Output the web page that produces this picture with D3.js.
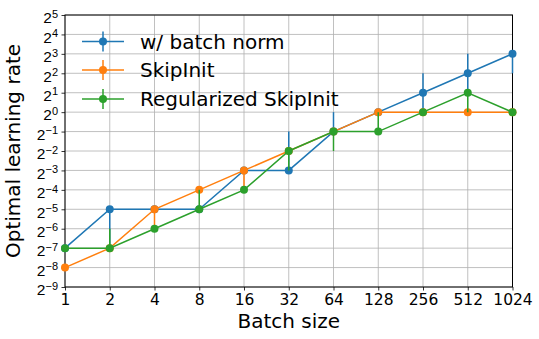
<!DOCTYPE html>
<html><head><meta charset="utf-8">
<script src="https://cdn.jsdelivr.net/npm/d3@7"></script>
<style>body{margin:0;background:#fff}svg{display:block;font-family:"DejaVu Sans",sans-serif}</style>
</head><body><div id="chart"></div>
<script>
const batchSizes = [1, 2, 4, 8, 16, 32, 64, 128, 256, 512, 1024];
const yTickExps = [-9,-8,-7,-6,-5,-4,-3,-2,-1,0,1,2,3,4,5];
// log2 of optimal learning rate
const bnExp   = [-7, -5, -5, -5, -3, -3, -1, 0, 1, 2, 3];
const bnLo    = [-7, -7, -5, -5, -3, -3, -1, 0, 0, 1, 2];
const bnHi    = [-7, -5, -5, -5, -3, -1, 0, 0, 2, 3, 3];
const skExp   = [-8, -7, -5, -4, -3, -2, -1, 0, 0, 0, 0];
const skLo    = [-8, -7, -6, -4, -4, -2, -1, 0, 0, 0, 0];
const skHi    = [-8, -7, -5, -4, -3, -2, -1, 0, 0, 0, 0];
const rsExp   = [-7, -7, -6, -5, -4, -2, -1, -1, 0, 1, 0];
const rsLo    = [-7, -7, -6, -5, -4, -3, -2, -1, 0, 0, 0];
const rsHi    = [-7, -6, -6, -4, -4, -2, -1, 0, 0, 1, 0];
const seriesNames = ["w/ batch norm", "SkipInit", "Regularized SkipInit"];
const colors = ["#1f77b4", "#ff7f0e", "#2ca02c"];

const W = 539, H = 339;
const m = {l: 65, r: 539-512.5, t: 15, b: 339-287};
const svg = d3.select("#chart").append("svg").attr("width", W).attr("height", H);
const x = d3.scaleLog().base(2).domain([1, 1024]).range([m.l, W - m.r]);
const y = d3.scaleLinear().domain([-9, 5]).range([H - m.b, m.t]);

// grid
const g = svg.append("g");
g.selectAll(".gx").data(batchSizes).enter().append("line")
  .attr("x1", d => x(d)).attr("x2", d => x(d)).attr("y1", m.t).attr("y2", H - m.b)
  .attr("stroke", "#b0b0b0").attr("stroke-width", 0.8);
g.selectAll(".gy").data(yTickExps).enter().append("line")
  .attr("y1", d => y(d)).attr("y2", d => y(d)).attr("x1", m.l).attr("x2", W - m.r)
  .attr("stroke", "#b0b0b0").attr("stroke-width", 0.8);

// axes
const xAxis = d3.axisBottom(x).tickValues(batchSizes).tickFormat(d => String(d)).tickSize(3.5).tickPadding(3.5);
const xg = svg.append("g").attr("transform", `translate(0,${H - m.b})`).call(xAxis);
xg.select(".domain").remove();
xg.selectAll("line").attr("stroke", "#000").attr("stroke-width", 0.8);
xg.selectAll("text").attr("font-size", "15.5px").attr("font-family", "DejaVu Sans").attr("fill", "#000");

const yAxis = d3.axisLeft(y).tickValues(yTickExps).tickFormat("").tickSize(3.5);
const yg = svg.append("g").attr("transform", `translate(${m.l},0)`).call(yAxis);
yg.select(".domain").remove();
yg.selectAll("line").attr("stroke", "#000").attr("stroke-width", 0.8);
yg.selectAll(".tick").each(function(d) {
  const t = d3.select(this).append("text").attr("x", -7).attr("dy", "0.5em")
    .attr("text-anchor", "end").attr("fill", "#000").attr("font-size", "15.5px");
  t.append("tspan").text("2");
  t.append("tspan").attr("dy", "-0.5em").attr("font-size", "11px").text(d < 0 ? "\u2212" + Math.abs(d) : String(d));
});

// frame
svg.append("rect").attr("x", m.l).attr("y", m.t).attr("width", W - m.r - m.l).attr("height", H - m.b - m.t)
  .attr("fill", "none").attr("stroke", "#000").attr("stroke-width", 1);

// series
const data = [
  {v: bnExp, lo: bnLo, hi: bnHi},
  {v: skExp, lo: skLo, hi: skHi},
  {v: rsExp, lo: rsLo, hi: rsHi}
];
const line = d3.line().x(d => x(d[0])).y(d => y(d[1]));
data.forEach((s, i) => {
  const pts = batchSizes.map((b, j) => [b, s.v[j], s.lo[j], s.hi[j]]);
  const sg = svg.append("g");
  sg.append("path").attr("d", line(pts)).attr("fill", "none").attr("stroke", colors[i]).attr("stroke-width", 1.5);
  sg.selectAll(".eb").data(pts.filter(p => p[2] !== p[3])).enter().append("line")
    .attr("x1", p => x(p[0])).attr("x2", p => x(p[0])).attr("y1", p => y(p[2])).attr("y2", p => y(p[3]))
    .attr("stroke", colors[i]).attr("stroke-width", 1.5);
  sg.selectAll("circle").data(pts).enter().append("circle")
    .attr("cx", p => x(p[0])).attr("cy", p => y(p[1])).attr("r", 4).attr("fill", colors[i]);
});

// legend
const lg = svg.append("g");
const legY = [41.5, 70, 99];
seriesNames.forEach((n, i) => {
  const cy = legY[i];
  lg.append("line").attr("x1", 82).attr("x2", 124).attr("y1", cy).attr("y2", cy).attr("stroke", colors[i]).attr("stroke-width", 1.5);
  lg.append("line").attr("x1", 103).attr("x2", 103).attr("y1", cy - 10).attr("y2", cy + 10).attr("stroke", colors[i]).attr("stroke-width", 1.5);
  lg.append("circle").attr("cx", 103).attr("cy", cy).attr("r", 4).attr("fill", colors[i]);
  lg.append("text").attr("x", 140).attr("y", cy).attr("dy", "0.36em").attr("font-size", "20px").attr("fill", "#000").text(n);
});

// axis labels
svg.append("text").attr("x", (m.l + W - m.r) / 2).attr("y", 328).attr("text-anchor", "middle")
  .attr("font-size", "20px").attr("fill", "#000").text("Batch size");
svg.append("text").attr("transform", `translate(20,${(m.t + H - m.b) / 2}) rotate(-90)`).attr("text-anchor", "middle")
  .attr("font-size", "20px").attr("fill", "#000").text("Optimal learning rate");
</script></body></html>
